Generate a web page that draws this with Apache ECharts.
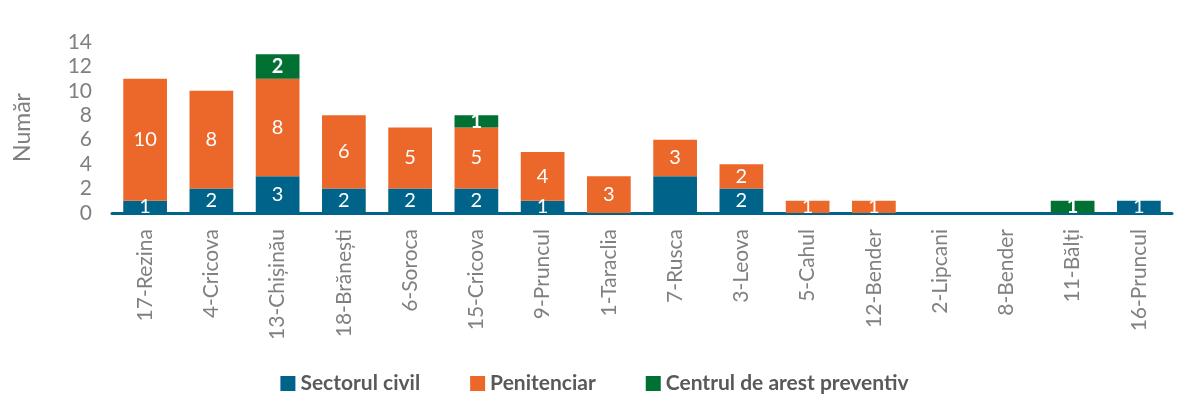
<!DOCTYPE html>
<html>
<head>
<meta charset="utf-8">
<script src="https://cdn.jsdelivr.net/npm/echarts@6/dist/echarts.min.js"></script>
<style>
  html, body { margin: 0; padding: 0; background: #fff; }
  #chart { width: 1189px; height: 412px; }
</style>
</head>
<body>
<div id="chart"></div>
<script>
const categories = [
  "17-Rezina", "4-Cricova", "13-Chișinău", "18-Brănești", "6-Soroca", "15-Cricova",
  "9-Pruncul", "1-Taraclia", "7-Rusca", "3-Leova", "5-Cahul", "12-Bender",
  "2-Lipcani", "8-Bender", "11-Bălți", "16-Pruncul"
];
const civil = [1, 2, 3, 2, 2, 2, 1, 0, 3, 2, 0, 0, 0, 0, 0, 1];
const penitenciar = [10, 8, 8, 6, 5, 5, 4, 3, 3, 2, 1, 1, 0, 0, 0, 0];
const arest = [0, 0, 2, 0, 0, 1, 0, 0, 0, 0, 0, 0, 0, 0, 1, 0];
// the original shows no label on this civil segment
const civilNoLabel = ["7-Rusca"];
const yTicks = [0, 2, 4, 6, 8, 10, 12, 14];

const FONT = "Lato";
const chart = echarts.init(document.getElementById("chart"));

const seg = (name, values, color, bold, hidden) => ({
  name,
  type: "bar",
  stack: "total",
  barWidth: "66%",
  data: values,
  itemStyle: { color },
  label: {
    show: true,
    position: "inside",
    color: "#fff",
    fontFamily: FONT,
    fontSize: 20,
    fontWeight: bold ? "bold" : "normal",
    formatter: (p) => (p.value === 0 || (hidden || []).includes(p.name) ? "" : String(p.value)),
  },
});

chart.setOption({
  animation: false,
  grid: { left: 112, right: 17, top: 42, bottom: 199 },
  legend: {
    bottom: 13,
    left: "center",
    itemWidth: 15,
    itemHeight: 15,
    itemGap: 50,
    icon: "rect",
    textStyle: { color: "#595959", fontFamily: FONT, fontSize: 21, fontWeight: "bold" },
    data: ["Sectorul civil", "Penitenciar", "Centrul de arest preventiv"],
  },
  xAxis: {
    type: "category",
    data: categories,
    axisLine: { lineStyle: { color: "#00648a", width: 3 } },
    axisTick: { show: false },
    axisLabel: {
      rotate: 90,
      interval: 0,
      margin: 16,
      color: "#808080",
      fontFamily: FONT,
      fontSize: 21,
    },
  },
  yAxis: {
    type: "value",
    min: 0,
    max: 14,
    interval: 2,
    name: "Număr",
    nameLocation: "middle",
    nameGap: 78,
    nameTextStyle: { color: "#808080", fontFamily: FONT, fontSize: 23 },
    splitLine: { show: false },
    axisLine: { show: false },
    axisTick: { show: false },
    axisLabel: {
      color: "#808080",
      fontFamily: FONT,
      fontSize: 21,
      margin: 20,
      formatter: (v) => (yTicks.includes(v) ? String(v) : ""),
    },
  },
  series: [
    seg("Sectorul civil", civil, "#00648a", false, civilNoLabel),
    seg("Penitenciar", penitenciar, "#ec672a", false),
    seg("Centrul de arest preventiv", arest, "#007033", true),
  ],
});
</script>
</body>
</html>
